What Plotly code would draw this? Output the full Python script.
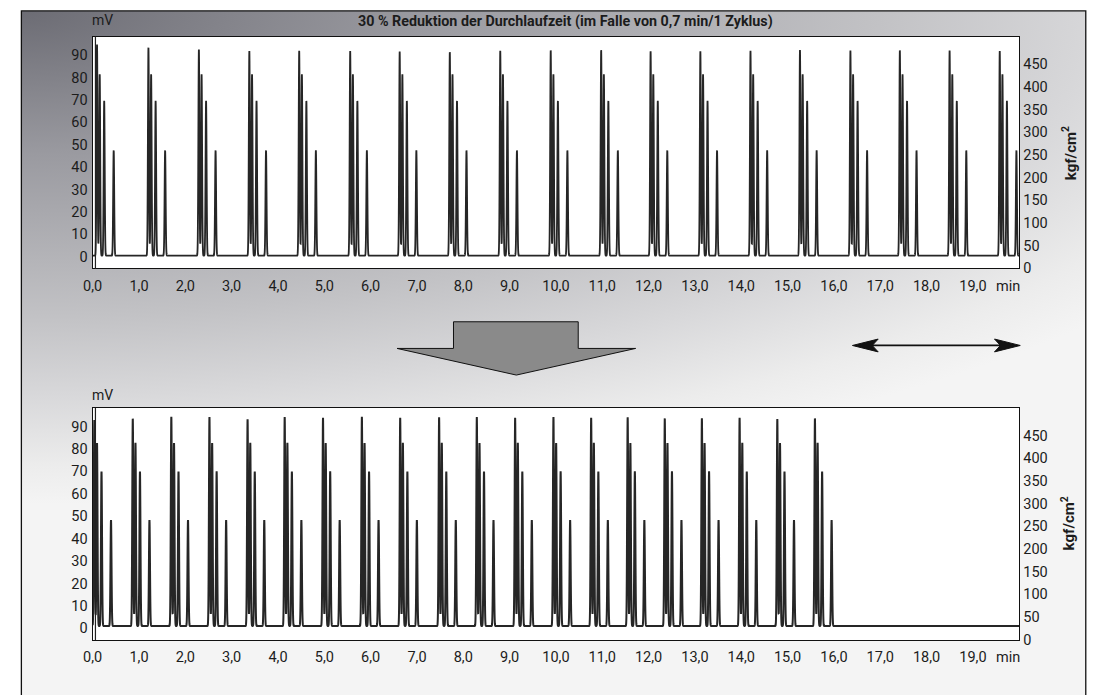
import base64
import numpy as np
import plotly.graph_objects as go

W, H = 1094, 695

# ---- peak tables read per injection cycle (time in min, signal in mV) ----
# upper run: original method
top_cycle_start = [0.094, 1.204, 2.293, 3.382, 4.458, 5.559, 6.627, 7.709, 8.798, 9.887,
                   10.976, 12.043, 13.117, 14.199, 15.267, 16.356, 17.423, 18.497, 19.579]
top_main_height = [94.8, 93.4, 92.6, 91.9, 91.9, 91.8, 91.6, 91.4, 92.0, 92.2,
                   92.3, 91.8, 91.8, 91.9, 92.3, 92.1, 92.2, 92.1, 91.9]
top_other_heights = [81.5, 69.6, 47.5]

# lower run: shortened cycle
bottom_cycle_start = [0.036, 0.866, 1.698, 2.521, 3.344, 4.145, 4.972, 5.811, 6.638, 7.478,
                      8.292, 9.119, 9.946, 10.760, 11.548, 12.349, 13.150, 13.964, 14.778, 15.590]
bottom_main_height = [92.9, 93.6, 94.3, 94.3, 93.3, 94.3, 94.0, 94.3, 94.0, 94.2,
                      94.2, 94.0, 94.3, 94.0, 94.2, 93.7, 93.8, 94.0, 93.4, 93.7]
bottom_other_heights = [82.7, 70.0, 48.3]

# retention offsets of the four components inside one cycle (min)
peak_offsets = [0.0, 0.058, 0.155, 0.36]
peak_sigma = 0.011
top_baseline = 0.5
bottom_baseline = 1.0

x_tick_vals = list(range(20)) + [19.76]
x_tick_text = [f"{v},0" for v in range(20)] + ["min"]
mv_ticks = list(range(0, 100, 10))
kgf_ticks = list(range(0, 500, 50))

title_text = "30 % Reduktion der Durchlaufzeit (im Falle von 0,7 min/1 Zyklus)"
pressure_title = "kgf/cm<sup>2</sup>"

FONT = "Roboto, Arial, sans-serif"
INK = "#1c1c1c"


def chromatogram(starts, mains, others, baseline):
    t = np.arange(0.0, 20.0001, 0.0015)
    y = np.full_like(t, baseline)
    for s, h in zip(starts, mains):
        for off, hh in zip(peak_offsets, [h] + others):
            y += (hh - baseline) * np.exp(-0.5 * ((t - s - off) / peak_sigma) ** 2)
    return t, y


t_top, y_top = chromatogram(top_cycle_start, top_main_height, top_other_heights, top_baseline)
t_bot, y_bot = chromatogram(bottom_cycle_start, bottom_main_height, bottom_other_heights, bottom_baseline)


def px(x):
    return x / W


def py(y):
    return 1 - y / H


fig = go.Figure()
fig.add_trace(go.Scatter(x=t_top, y=y_top, mode="lines", xaxis="x", yaxis="y",
                         line=dict(color="#262626", width=1.8, simplify=False),
                         hoverinfo="skip", showlegend=False))
fig.add_trace(go.Scatter(x=[0], y=[0], mode="markers", xaxis="x", yaxis="y2",
                         marker=dict(opacity=0), hoverinfo="skip", showlegend=False))
fig.add_trace(go.Scatter(x=t_bot, y=y_bot, mode="lines", xaxis="x2", yaxis="y3",
                         line=dict(color="#262626", width=2.0, simplify=False),
                         hoverinfo="skip", showlegend=False))
fig.add_trace(go.Scatter(x=[0], y=[0], mode="markers", xaxis="x2", yaxis="y4",
                         marker=dict(opacity=0), hoverinfo="skip", showlegend=False))

xdom = [px(83.5), px(1019.5)]
top_dom = [py(272), py(37)]
bot_dom = [py(648.3), py(413.3)]

tickfont = dict(family=FONT, size=14.5, color=INK)
xcommon = dict(range=[0, 20], tickvals=x_tick_vals, ticktext=x_tick_text, ticks="",
               showgrid=False, zeroline=False, showline=True, linecolor="#111",
               linewidth=1.2, mirror=True, tickfont=tickfont, domain=xdom,
               ticklabelstandoff=4)
ymv = dict(range=[-5.2, 98.3], tickvals=mv_ticks, ticks="", showgrid=False, zeroline=False,
           showline=True, linecolor="#111", linewidth=1.2, mirror=True, tickfont=tickfont,
           ticklabelstandoff=1)
ykgf = dict(range=[-0.5, 511], tickvals=kgf_ticks, ticks="", showgrid=False, zeroline=False,
            showline=False, side="right", tickfont=tickfont, ticklabelstandoff=3)

# background gradient of the panel
svg = f"""<svg xmlns='http://www.w3.org/2000/svg' width='1076' height='690' viewBox='0 0 1076 690' preserveAspectRatio='none'>
<defs><radialGradient id='g' gradientUnits='userSpaceOnUse' cx='0' cy='0' r='1'
 gradientTransform='scale(1400,480)'>
<stop offset='0' stop-color='#6c6c74'/>
<stop offset='0.29' stop-color='#9a9aa0'/>
<stop offset='0.62' stop-color='#c2c2c5'/>
<stop offset='0.78' stop-color='#d8d8da'/>
<stop offset='0.92' stop-color='#ececec'/>
<stop offset='1' stop-color='#f4f4f4'/>
</radialGradient></defs>
<rect x='0' y='0' width='1076' height='690' fill='url(#g)'/></svg>"""
svg_uri = "data:image/svg+xml;base64," + base64.b64encode(svg.encode()).decode()

shapes = []
# white plotting areas
for dom in (top_dom, bot_dom):
    shapes.append(dict(type="rect", xref="paper", yref="paper", x0=xdom[0], x1=xdom[1],
                       y0=dom[0], y1=dom[1], fillcolor="white", line=dict(width=0), layer="below"))
# outer panel frame
shapes.append(dict(type="rect", xref="paper", yref="paper", x0=px(11.5), x1=px(1086.7),
                   y0=-0.05, y1=py(11), line=dict(color="#111", width=1.3), layer="below"))
# inner start marker line in both runs
for xr, yr in (("x", "y"), ("x2", "y3")):
    shapes.append(dict(type="line", xref=xr, yref=f"{yr} domain", x0=0.06, x1=0.06, y0=0, y1=1,
                       line=dict(color="#222", width=1.2)))


def poly(points):
    return "M " + " L ".join(f"{px(x):.5f},{py(y):.5f}" for x, y in points) + " Z"


# big downward arrow between the runs
shapes.append(dict(type="path", xref="paper", yref="paper",
                   path=poly([(448, 326), (574, 326), (574, 353), (632, 353), (511.5, 380),
                              (391, 353), (448, 353)]),
                   fillcolor="#8a8a8a", line=dict(color="#111", width=1)))
# double-headed arrow
shapes.append(dict(type="line", xref="paper", yref="paper", x0=px(868), x1=px(1004),
                   y0=py(350), y1=py(350), line=dict(color="#111", width=1.8)))
shapes.append(dict(type="path", xref="paper", yref="paper",
                   path=poly([(851, 350), (877, 343.5), (871, 350), (877, 356.5)]),
                   fillcolor="#111", line=dict(color="#111", width=1)))
shapes.append(dict(type="path", xref="paper", yref="paper",
                   path=poly([(1020.5, 350), (994.5, 343.5), (1000.5, 350), (994.5, 356.5)]),
                   fillcolor="#111", line=dict(color="#111", width=1)))

annotations = [
    dict(text=f"<b>{title_text}</b>", x=px(561.5), y=py(21.5), xref="paper", yref="paper",
         showarrow=False, xanchor="center", yanchor="middle",
         font=dict(family=FONT, size=14.3, color=INK)),
    dict(text="mV", x=px(93), y=py(20), xref="paper", yref="paper", showarrow=False,
         xanchor="center", yanchor="middle", font=dict(family=FONT, size=14, color=INK)),
    dict(text="mV", x=px(93), y=py(400), xref="paper", yref="paper", showarrow=False,
         xanchor="center", yanchor="middle", font=dict(family=FONT, size=14, color=INK)),
    dict(text=f"<b>{pressure_title}</b>", x=px(1070), y=py(155), xref="paper", yref="paper",
         showarrow=False, textangle=-90, xanchor="center", yanchor="middle",
         font=dict(family=FONT, size=15, color=INK)),
    dict(text=f"<b>{pressure_title}</b>", x=px(1069), y=py(530), xref="paper", yref="paper",
         showarrow=False, textangle=-90, xanchor="center", yanchor="middle",
         font=dict(family=FONT, size=15, color=INK)),
]

fig.update_layout(
    width=W, height=H, margin=dict(l=0, r=0, t=0, b=0),
    paper_bgcolor="white", plot_bgcolor="rgba(0,0,0,0)",
    xaxis=dict(**xcommon, anchor="y"),
    yaxis=dict(**ymv, domain=top_dom, anchor="x"),
    yaxis2=dict(**ykgf, overlaying="y", anchor="x"),
    xaxis2=dict(**xcommon, anchor="y3"),
    yaxis3=dict(**ymv, domain=bot_dom, anchor="x2"),
    yaxis4=dict(**ykgf, overlaying="y3", anchor="x2"),
    images=[dict(source=svg_uri, xref="paper", yref="paper", x=px(11.5), y=py(11),
                 sizex=px(1086.7) - px(11.5), sizey=py(11) + 0.05, sizing="stretch",
                 xanchor="left", yanchor="top", layer="below")],
    shapes=shapes,
    annotations=annotations,
    showlegend=False,
)

fig.write_html("out.html")
